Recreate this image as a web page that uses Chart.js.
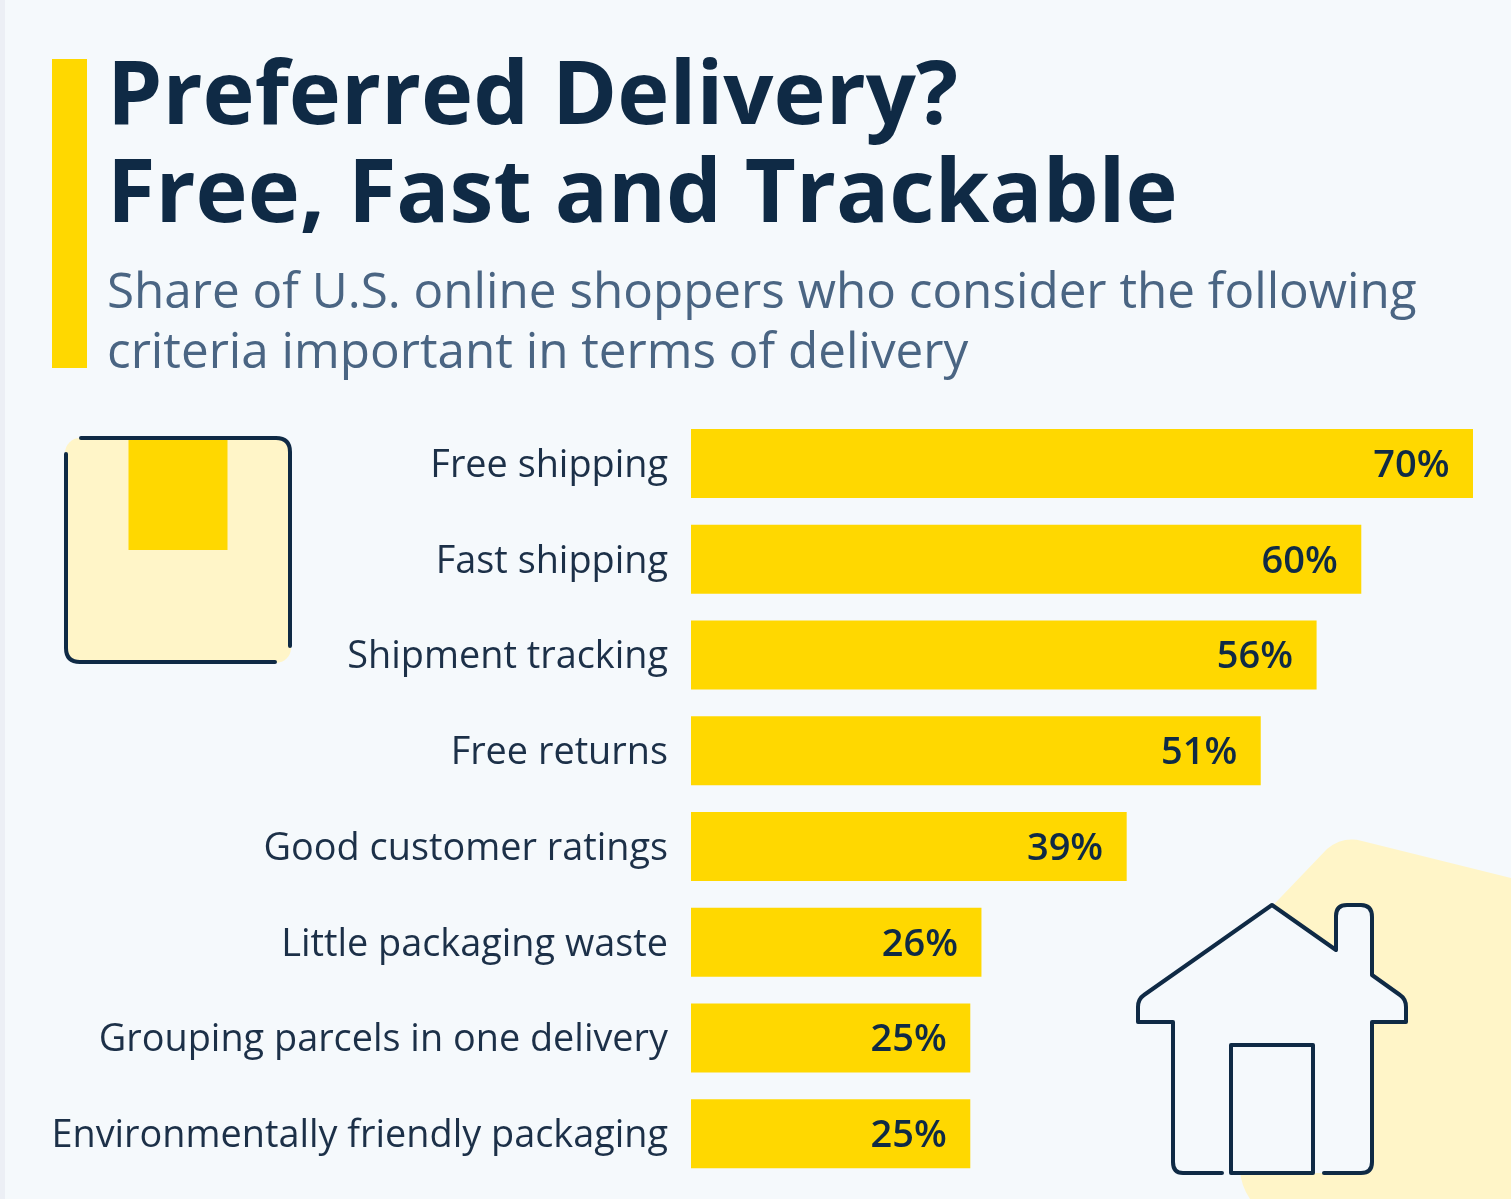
<!DOCTYPE html>
<html>
<head>
<meta charset="utf-8">
<title>Preferred Delivery?</title>
<script src="https://cdn.jsdelivr.net/npm/chart.js@4"></script>
<style>
  html, body { margin: 0; padding: 0; background: #f5f9fc; }
  #page { position: relative; width: 1511px; height: 1199px; overflow: hidden; font-family: "Open Sans", sans-serif; }
  #edge { position: absolute; left: 0; top: 0; width: 5px; height: 1199px; background: #eceff5; }
  #accent { position: absolute; left: 51.5px; top: 59px; width: 35.5px; height: 309px; background: #ffd800; }
  #title { position: absolute; left: 107px; top: 40.5px; font-size: 88.25px; line-height: 98px; font-weight: 700; color: #0f2a45; white-space: nowrap; }
  #subtitle { position: absolute; left: 107px; top: 258.5px; font-size: 49.4px; line-height: 60px; font-weight: 400; color: #4a6583; white-space: nowrap; }
  #deco { position: absolute; left: 0; top: 0; }
  #deliveryChart { position: absolute; left: 0; top: 0; }
</style>
</head>
<body>
<div id="page">
  <div id="edge"></div>
  <svg id="deco" width="1511" height="1199" fill="none" stroke-linecap="round" stroke-linejoin="round">
    <!-- parcel -->
    <rect x="65" y="438" width="226" height="225" rx="15" fill="#fff5c8"/>
    <rect x="128.5" y="440" width="99" height="110" fill="#ffd800"/>
    <path d="M81 438H276Q290 438 290 452V646M275 662H80Q66 662 66 648V454" stroke="#0f2a45" stroke-width="4"/>
    <!-- house -->
    <path d="M1511 878L1362 841Q1343 836 1327 849L1240 940V1170Q1241 1186 1250 1199H1511Z" fill="#fff5c8"/>
    <path d="M1272 905L1336 950V916Q1336 905 1347 905H1361Q1372 905 1372 917V975L1400 995Q1406 999 1406 1007V1022H1372V1162Q1372 1173 1361 1173H1183Q1173 1173 1173 1162V1022H1138V1007Q1138 999 1144 995Z" fill="#f5f9fc"/>
    <path d="M1222 1173H1183Q1173 1173 1173 1162V1022H1138V1007Q1138 999 1144 995L1272 905L1336 950V916Q1336 905 1347 905H1361Q1372 905 1372 917V975L1400 995Q1406 999 1406 1007V1022H1372V1162Q1372 1173 1361 1173H1324" stroke="#0f2a45" stroke-width="4"/>
    <rect x="1231" y="1045" width="82" height="128" stroke="#0f2a45" stroke-width="4"/>
  </svg>
  <div id="accent"></div>
  <div id="title">Preferred Delivery?<br>Free, Fast and Trackable</div>
  <div id="subtitle">Share of U.S. online shoppers who consider the following<br>criteria important in terms of delivery</div>
  <canvas id="deliveryChart" width="1511" height="1199"></canvas>
</div>
<script>
const categories = [
  "Free shipping",
  "Fast shipping",
  "Shipment tracking",
  "Free returns",
  "Good customer ratings",
  "Little packaging waste",
  "Grouping parcels in one delivery",
  "Environmentally friendly packaging",
];
const shares = [70, 60, 56, 51, 39, 26, 25, 25];

const BAR_COLOR = "#ffd800";
const TEXT_COLOR = "#0f2a45";

// percent labels inside the bar ends
const valueLabels = {
  id: "valueLabels",
  afterDatasetsDraw(chart) {
    const ctx = chart.ctx;
    const meta = chart.getDatasetMeta(0);
    ctx.save();
    ctx.font = "600 38px 'Open Sans'";
    ctx.fillStyle = TEXT_COLOR;
    ctx.textAlign = "right";
    ctx.textBaseline = "middle";
    meta.data.forEach((bar, i) => {
      ctx.fillText(shares[i] + "%", bar.x - 23.5, bar.y + 2.5);
    });
    ctx.restore();
  },
};

new Chart(document.getElementById("deliveryChart").getContext("2d"), {
  type: "bar",
  data: {
    labels: categories,
    datasets: [
      {
        data: shares,
        backgroundColor: BAR_COLOR,
        borderWidth: 0,
        categoryPercentage: 1,
        barPercentage: 0.72,
      },
    ],
  },
  options: {
    indexAxis: "y",
    responsive: false,
    animation: false,
    devicePixelRatio: 1,
    layout: { padding: { top: 415.6, bottom: 17.4, right: 38, left: 0 } },
    plugins: {
      legend: { display: false },
      tooltip: { enabled: false },
    },
    scales: {
      x: { display: false, min: 0, max: 70 },
      y: {
        afterFit(axis) {
          axis.width = 691;
          axis.paddingTop = 0;
          axis.paddingBottom = 0;
        },
        grid: { display: false, drawTicks: false },
        border: { display: false },
        ticks: {
          padding: 23,
          labelOffset: 2.5,
          color: "#1c3048",
          font: { family: "'Open Sans'", size: 37.85 },
          autoSkip: false,
        },
      },
    },
  },
  plugins: [valueLabels],
});
</script>
</body>
</html>
